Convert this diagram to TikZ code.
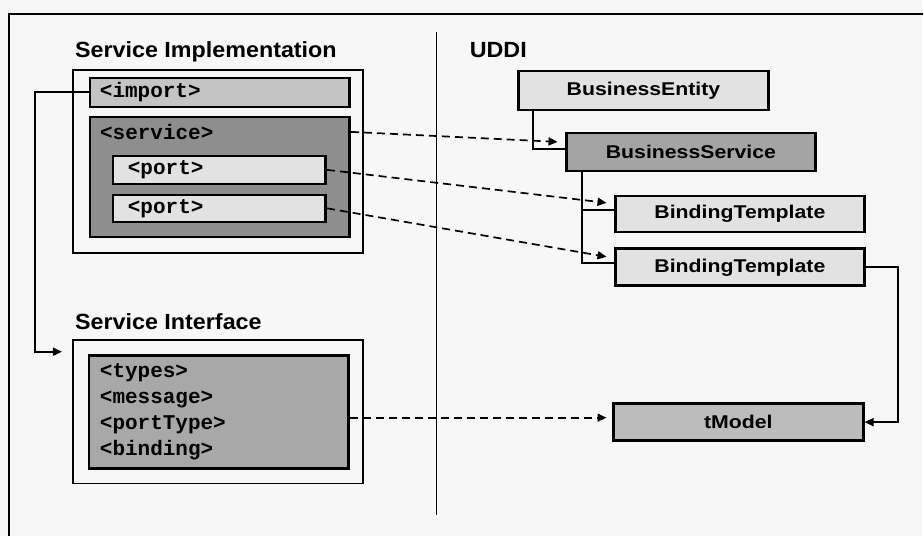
\documentclass[tikz,border=0pt]{standalone}
\usepackage{fontspec}
\usetikzlibrary{arrows.meta,calc}
\newfontfamily\lblfont[FakeStretch=1.15]{Liberation Sans}
\newfontfamily\headfont[FakeStretch=1.06]{Liberation Sans}
\newfontfamily\tagfont{Liberation Mono}
\definecolor{paper}{HTML}{F7F7F7}
\definecolor{lightfill}{HTML}{E2E2E2}
\definecolor{midfill}{HTML}{C4C4C4}
\definecolor{darkfill}{HTML}{8E8E8E}
\definecolor{bsfill}{HTML}{A4A4A4}
\definecolor{tmfill}{HTML}{BCBCBC}
\definecolor{iffill}{HTML}{A8A8A8}
\begin{document}
\begin{tikzpicture}[x=1pt,y=-1pt,
  heading/.style={font=\headfont\bfseries\fontsize{22}{26}\selectfont, anchor=base west, inner sep=0pt},
  group/.style={draw=black, line width=1.6pt, inner sep=0pt},
  elem/.style={draw=black, line width=2.6pt, inner sep=0pt,
    font=\lblfont\bfseries\fontsize{18.5}{22}\selectfont},
  tag/.style={font=\tagfont\bfseries\fontsize{21}{26}\selectfont, align=left},
  link/.style={line width=1.9pt},
  tip/.style={-{Triangle[length=9pt,width=8pt]}},
  ref/.style={line width=1.7pt, dash pattern=on 8pt off 5pt, tip}
]
% page and frame
\fill[paper] (0,0) rectangle (924,536);
\coordinate (frameBL) at (9,536);
\coordinate (frameTL) at (9,14);
\coordinate (frameTR) at (924,14);
\draw[line width=1.5pt] (frameBL) -- (frameTL) -- (frameTR);
\coordinate (divTop) at (437,32);
\coordinate (divBot) at (437,515);
\draw[line width=1.5pt] (divTop) -- (divBot);

% headings
\node[heading] (hImpl) at (75,58) {Service Implementation};
\node[heading] (hUddi) at (470,58) {UDDI};
\node[heading] (hIface) at (75,330) {Service Interface};

% service implementation
\node[group, minimum width=290pt, minimum height=183pt] (impl) at (218,161.5) {};
\node[elem, tag, fill=midfill, minimum height=29pt, text width=240pt, inner xsep=10pt] (imp) at (220,92.5) {<import>};
\node[elem, fill=darkfill, minimum width=260pt, minimum height=120pt] (svc) at (220,177) {};
\node[tag, anchor=west, inner sep=0pt] (svcTag) at (100,132) {<service>};
\node[elem, tag, fill=lightfill, minimum height=28pt, text width=183pt, inner xsep=15pt] (port1) at (219.5,170) {<port>};
\node[elem, tag, fill=lightfill, minimum height=27pt, text width=183pt, inner xsep=15pt] (port2) at (219.5,208.5) {<port>};

% service interface
\node[group, minimum width=290pt, minimum height=144pt] (iface) at (218,412) {};
\node[elem, tag, fill=iffill, minimum height=113pt, text width=238pt, inner xsep=11pt] (ifin) at (219,412.5)
  {<types>\\<message>\\<portType>\\<binding>};

% UDDI registry entries
\node[elem, fill=lightfill, minimum width=250pt, minimum height=39pt] (BE) at (644,90.5) {BusinessEntity};
\node[elem, fill=bsfill, minimum width=249pt, minimum height=38pt] (BS) at (691.5,152) {BusinessService};
\node[elem, fill=lightfill, minimum width=249pt, minimum height=36pt] (BT1) at (740.5,214) {BindingTemplate};
\node[elem, fill=lightfill, minimum width=249pt, minimum height=37pt] (BT2) at (740.5,267.5) {BindingTemplate};
\node[elem, fill=tmfill, minimum width=250pt, minimum height=37pt] (tM) at (739,422.5) {tModel};

% containment lines
\draw[link] ([xshift=16pt]BE.south west) |- ([yshift=3pt]BS.west);
\draw[link] ([xshift=17pt]BS.south west) |- ([yshift=4pt]BT1.west);
\draw[link] ([xshift=17pt]BS.south west) |- ([yshift=4pt]BT2.west);
\draw[link, tip] (BT2.east) -- ++(32,0) |- (tM.east);

% import reference
\coordinate (impIn) at (62,352);
\coordinate (impBend) at (35,352);
\draw[link, tip] (imp.west) -| (impBend) -- (impIn);

% mappings to the registry
\coordinate (bsIn) at (558,142);
\coordinate (bt1In) at (607,203);
\coordinate (bt2In) at (607,257);
\coordinate (tmIn) at (607,418);
\draw[ref] (svc.east |- svcTag) -- (bsIn);
\draw[ref] (port1.east) -- (bt1In);
\draw[ref] (port2.east) -- (bt2In);
\draw[ref] (ifin.east |- tmIn) -- (tmIn);
\end{tikzpicture}
\end{document}
